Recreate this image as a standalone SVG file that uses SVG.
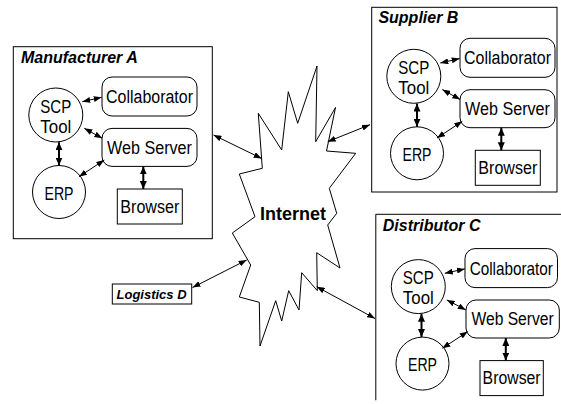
<svg xmlns="http://www.w3.org/2000/svg" width="561" height="404" viewBox="0 0 561 404">
<style>
.ln{fill:none;stroke:#000;stroke-width:1}
.sh{fill:#fff;stroke:#000;stroke-width:1}
.ar{stroke:#000;stroke-width:1;fill:none;marker-start:url(#ah);marker-end:url(#ah)}
.tk{stroke:#000;stroke-width:2;fill:none;marker-start:url(#ahk);marker-end:url(#ahk)}
.lb{font-family:"Liberation Sans",Arial,sans-serif;font-size:18px;fill:#000;text-anchor:middle}
.ti{font-family:"Liberation Sans",Arial,sans-serif;font-size:16px;font-weight:bold;font-style:italic;fill:#000}
</style>
<defs>
<marker id="ah" viewBox="0 0 8 6" refX="8" refY="3" markerWidth="8" markerHeight="6" markerUnits="userSpaceOnUse" orient="auto-start-reverse"><path d="M0,0 L8,3 L0,6 Z" fill="#000"/></marker>
<marker id="ahk" viewBox="0 0 8 7" refX="8" refY="3.5" markerWidth="8" markerHeight="7" markerUnits="userSpaceOnUse" orient="auto-start-reverse"><path d="M0,0 L8,3.5 L0,7 Z" fill="#000"/></marker>
</defs>
<rect width="561" height="404" fill="#fff"/>

<g id="internet">
<polygon class="sh" points="262.3,168.3 258.3,113.3 281.7,150 288.3,91.7 297.7,123.3 317,66 315.7,141.7 335.5,107.5 326.5,151 355.7,153.3 329.3,188.3 336.7,213.3 327.7,225 340,268 316.7,252.7 317.3,290.7 301.7,272.7 299,310 288.7,290.7 281.7,321 275.7,300.7 260,346 259.3,302.3 239.3,297 250.7,265 232.3,233 255,216.7 239.3,174"/>
<text x="293" y="220" style="font-family:'Liberation Sans',Arial,sans-serif;font-size:18px;font-weight:bold;text-anchor:middle">Internet</text>
</g>

<g id="manufacturer-a" transform="translate(13.3,46.7)">
<rect class="ln" x="0" y="0" width="199" height="192"/>
<text class="ti" x="7.7" y="16.6">Manufacturer A</text>
<g id="a-scp"><circle class="sh" cx="42.5" cy="68.3" r="27"/><text class="lb" x="42.5" y="66" textLength="31" lengthAdjust="spacingAndGlyphs">SCP</text><text class="lb" x="42.5" y="86" textLength="31" lengthAdjust="spacingAndGlyphs">Tool</text></g>
<g id="a-erp"><circle class="sh" cx="45.7" cy="145.3" r="26.5"/><text class="lb" x="45.7" y="153" textLength="29" lengthAdjust="spacingAndGlyphs">ERP</text></g>
<g id="a-collab"><rect class="sh" x="88.7" y="30.3" width="95" height="39" rx="10"/><text class="lb" x="136.2" y="56.2" textLength="87" lengthAdjust="spacingAndGlyphs">Collaborator</text></g>
<g id="a-web"><rect class="sh" x="88.7" y="81.7" width="95" height="38" rx="10"/><text class="lb" x="136.2" y="107.1" textLength="85" lengthAdjust="spacingAndGlyphs">Web Server</text></g>
<g id="a-browser"><rect class="sh" x="104" y="142.3" width="65" height="35"/><text class="lb" x="136.5" y="166.2" textLength="59" lengthAdjust="spacingAndGlyphs">Browser</text></g>
<g id="a-connectors">
<line class="ar" x1="69" y1="55" x2="88.4" y2="50.6"/>
<line class="ar" x1="71" y1="81.6" x2="89" y2="91.6"/>
<line class="tk" x1="45.7" y1="95.5" x2="45.7" y2="118.8"/>
<line class="ar" x1="91" y1="113.3" x2="65.7" y2="130"/>
<line class="tk" x1="130" y1="119.7" x2="130" y2="142.3"/>
</g>
</g>

<g id="supplier-b" transform="translate(371.7,7.3)">
<rect class="ln" x="0" y="0" width="185.3" height="184.7"/>
<text class="ti" x="6.7" y="16">Supplier B</text>
<g transform="translate(-0.4,0.7)">
<g id="b-scp"><circle class="sh" cx="42.5" cy="68.3" r="27"/><text class="lb" x="42.5" y="66" textLength="31" lengthAdjust="spacingAndGlyphs">SCP</text><text class="lb" x="42.5" y="86" textLength="31" lengthAdjust="spacingAndGlyphs">Tool</text></g>
<g id="b-erp"><circle class="sh" cx="45.7" cy="145.3" r="26.5"/><text class="lb" x="45.7" y="153" textLength="29" lengthAdjust="spacingAndGlyphs">ERP</text></g>
<g id="b-collab"><rect class="sh" x="88.7" y="30.3" width="95" height="39" rx="10"/><text class="lb" x="136.2" y="56.2" textLength="87" lengthAdjust="spacingAndGlyphs">Collaborator</text></g>
<g id="b-web"><rect class="sh" x="88.7" y="81.7" width="95" height="38" rx="10"/><text class="lb" x="136.2" y="107.1" textLength="85" lengthAdjust="spacingAndGlyphs">Web Server</text></g>
<g id="b-browser"><rect class="sh" x="104" y="142.3" width="65" height="35"/><text class="lb" x="136.5" y="166.2" textLength="59" lengthAdjust="spacingAndGlyphs">Browser</text></g>
<g id="b-connectors">
<line class="ar" x1="69" y1="55" x2="88.4" y2="50.6"/>
<line class="ar" x1="71" y1="81.6" x2="89" y2="91.6"/>
<line class="tk" x1="45.7" y1="95.5" x2="45.7" y2="118.8"/>
<line class="ar" x1="91" y1="113.3" x2="65.7" y2="130"/>
<line class="tk" x1="130" y1="119.7" x2="130" y2="142.3"/>
</g>
</g>
</g>

<g id="distributor-c" transform="translate(375.8,214.3)">
<path class="ln" d="M185.2,0 H0 V186"/>
<text class="ti" x="7" y="16.7">Distributor C</text>
<g transform="translate(0,4)">
<g id="c-scp"><circle class="sh" cx="42.5" cy="68.3" r="27"/><text class="lb" x="42.5" y="66" textLength="31" lengthAdjust="spacingAndGlyphs">SCP</text><text class="lb" x="42.5" y="86" textLength="31" lengthAdjust="spacingAndGlyphs">Tool</text></g>
<g id="c-erp"><circle class="sh" cx="46.7" cy="145.3" r="26.5"/><text class="lb" x="46.7" y="153" textLength="29" lengthAdjust="spacingAndGlyphs">ERP</text></g>
<g id="c-collab"><rect class="sh" x="89.2" y="30.3" width="92.5" height="39" rx="10"/><text class="lb" transform="translate(135.5,56.2) scale(0.85,1)" x="0" y="0">Collaborator</text></g>
<g id="c-web"><rect class="sh" x="90.2" y="81.7" width="93.3" height="38" rx="10"/><text class="lb" transform="translate(136.8,107.1) scale(0.87,1)" x="0" y="0">Web Server</text></g>
<g id="c-browser"><rect class="sh" x="104.2" y="142.3" width="63.3" height="35"/><text class="lb" x="135.8" y="166.2" textLength="58" lengthAdjust="spacingAndGlyphs">Browser</text></g>
<g id="c-connectors">
<line class="ar" x1="69" y1="55" x2="89" y2="50.6"/>
<line class="ar" x1="71" y1="81.6" x2="90" y2="91.6"/>
<line class="tk" x1="45.7" y1="95.5" x2="45.7" y2="118.8"/>
<line class="ar" x1="92" y1="113.3" x2="66.5" y2="130"/>
<line class="tk" x1="130" y1="119.7" x2="130" y2="142.3"/>
</g>
</g>
</g>

<g id="logistics-d">
<rect class="ln" x="112.3" y="284" width="79.4" height="20"/>
<text x="116.5" y="299" style="font-family:'Liberation Sans',Arial,sans-serif;font-size:13px;font-weight:bold;font-style:italic">Logistics D</text>
</g>

<g id="connectors">
<line class="ar" x1="213.5" y1="135" x2="261.7" y2="158.5"/>
<line class="ar" x1="327.7" y1="141.7" x2="370" y2="124.7"/>
<line class="ar" x1="192.5" y1="287.5" x2="246.7" y2="260"/>
<line class="ar" x1="316.7" y1="286.7" x2="375" y2="318.5"/>
</g>
</svg>
